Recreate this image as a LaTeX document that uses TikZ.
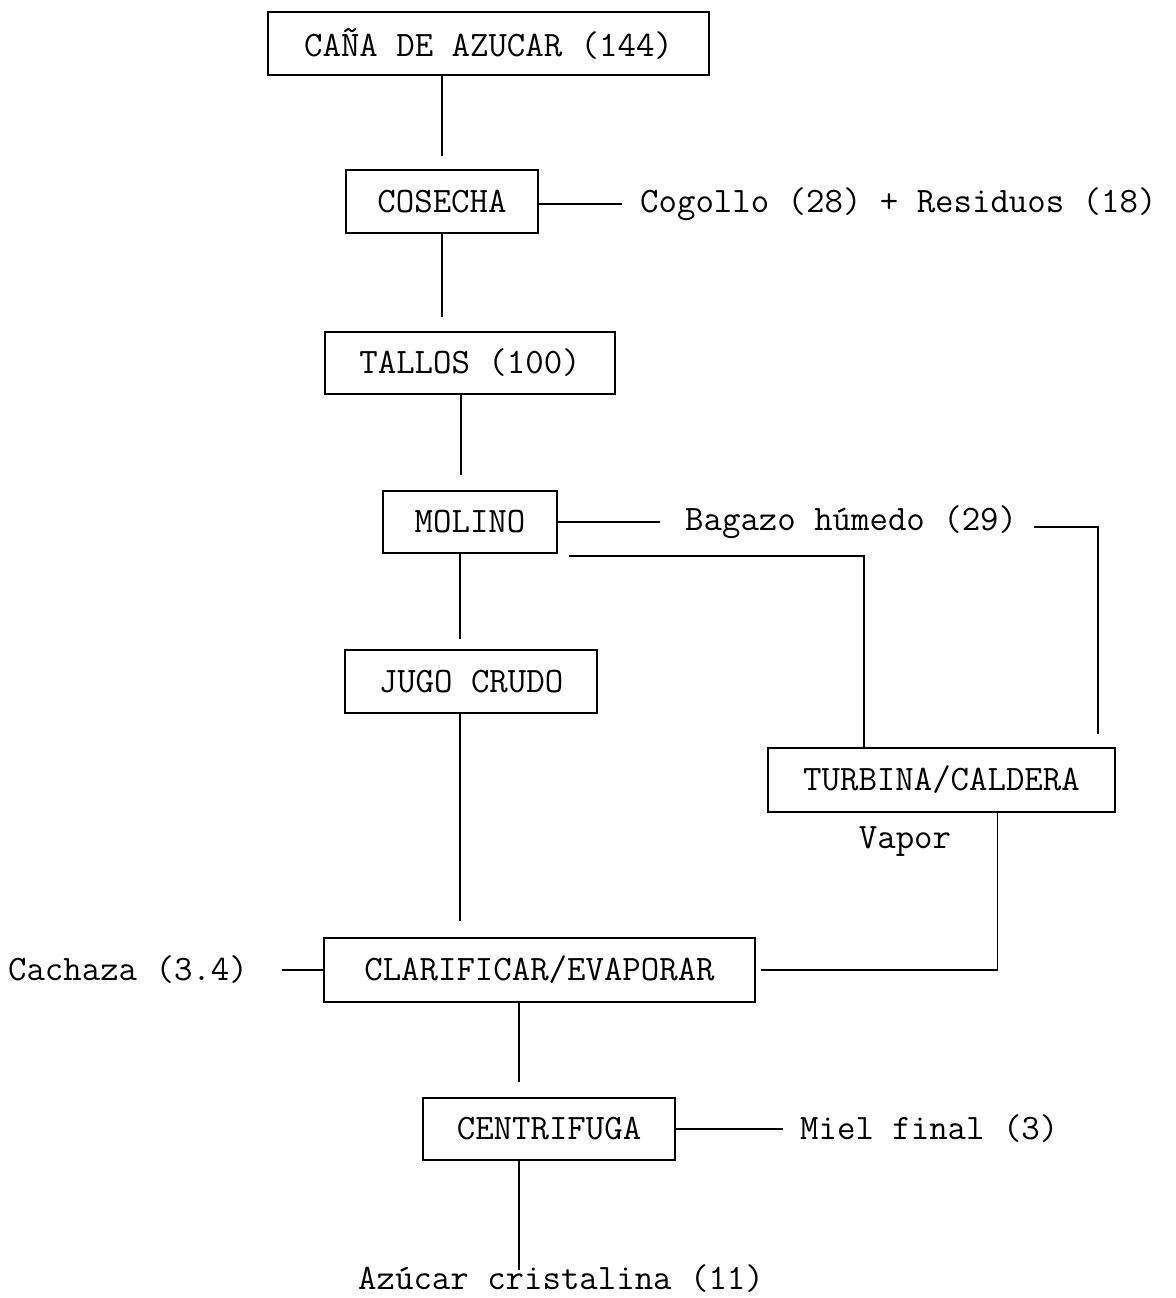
\documentclass[tikz,border=0pt]{standalone}
\usepackage{fontspec}
\usetikzlibrary{positioning,calc}

\begin{document}
\begin{tikzpicture}[x=1pt,y=-1pt,
    font=\fontsize{35.8}{40}\selectfont\ttfamily,
    stagebox/.style={draw,line width=2.2pt,inner sep=0pt,align=center},
    flowlabel/.style={inner sep=0pt},
    flowline/.style={line width=1.8pt}]
  \useasboundingbox (0,0) rectangle (1175,1298);

  % process stages
  \node[stagebox,minimum width=441pt,minimum height=63pt] (cana)    at (488.5,43.5) {CAÑA DE AZUCAR (144)};
  \node[stagebox,minimum width=192pt,minimum height=63pt] (cosecha) at (442,201.5)  {COSECHA};
  \node[stagebox,minimum width=290pt,minimum height=62pt] (tallos)  at (470,363)    {TALLOS (100)};
  \node[stagebox,minimum width=174pt,minimum height=62pt] (molino)  at (470,522)    {MOLINO};
  \node[stagebox,minimum width=252pt,minimum height=63pt] (jugo)    at (471,681.5)  {JUGO CRUDO};
  \node[stagebox,minimum width=347pt,minimum height=64pt] (turbina) at (941.5,780)  {TURBINA/CALDERA};
  \node[stagebox,minimum width=431pt,minimum height=64pt] (clarif)  at (539.5,970)  {CLARIFICAR/EVAPORAR};
  \node[stagebox,minimum width=252pt,minimum height=62pt] (centri)  at (549,1129)   {CENTRIFUGA};

  % side streams
  \node[flowlabel,anchor=west] (cogollo) at (640,204)   {Cogollo (28) + Residuos (18)};
  \node[flowlabel,anchor=west] (bagazo)  at (685,522)   {Bagazo húmedo (29)};
  \node[flowlabel]             (vapor)   at (905,842)   {Vapor};
  \node[flowlabel,anchor=east] (cachaza) at (248,970)   {Cachaza (3.4)};
  \node[flowlabel,anchor=west] (miel)    at (800,1129)  {Miel final (3)};
  \node[flowlabel,anchor=base west] (azucar) at (358,1289) {Azúcar cristalina (11)};

  % main line
  \draw[flowline,shorten >=13pt] (cana.south -| cosecha.north) -- (cosecha.north);
  \draw[flowline,shorten >=14pt] (cosecha.south) -- (cosecha.south |- tallos.north);
  \draw[flowline,shorten >=15pt] ([xshift=-9pt]tallos.south -| molino.north) -- ([xshift=-9pt]molino.north);
  \draw[flowline,shorten >=10pt] ([xshift=-10pt]molino.south) -- ([xshift=-10pt]molino.south |- jugo.north);
  \draw[flowline,shorten >=16pt] ([xshift=-11pt]jugo.south) -- ([xshift=-11pt]jugo.south |- clarif.north);
  \draw[flowline,shorten >=15pt] ([xshift=-30pt]centri.north |- clarif.south) -- ([xshift=-30pt]centri.north);
  \draw[flowline,shorten >=19pt] ([xshift=-30pt]centri.south) -- ([xshift=-30pt]centri.south |- azucar.base);

  % branches
  \draw[flowline,shorten >=18pt] (cosecha.east |- cogollo.west) -- (cogollo.west);
  \draw[flowline,shorten >=25pt] (molino.east |- bagazo.west) -- (bagazo.west);
  \draw[flowline,shorten <=17pt,shorten >=13pt] ([yshift=-5pt]bagazo.east) -| ([xshift=-18pt]turbina.north east);
  \draw[flowline] ([xshift=11pt,yshift=-2pt]molino.south east) -| ([xshift=97pt]turbina.north west);
  \draw[flowline,shorten >=5pt] ([xshift=56pt]turbina.south) |- (clarif.east);
  \draw[flowline,shorten >=34pt] (clarif.west) -- (cachaza.east);
  \draw[flowline,shorten >=17pt] (centri.east) -- (miel.west);
\end{tikzpicture}
\end{document}
